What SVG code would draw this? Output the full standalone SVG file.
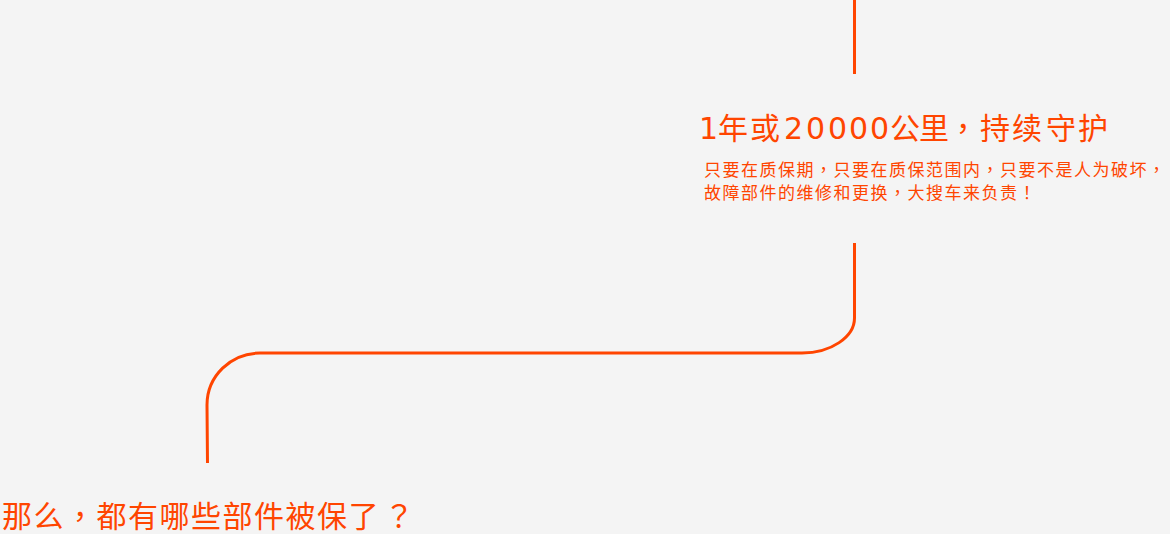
<svg xmlns="http://www.w3.org/2000/svg" width="1170" height="534" viewBox="0 0 1170 534">
  <style>
    .txt { font-family: "Noto Sans CJK SC", "Noto Sans", sans-serif; fill: #ff4500; }
    .p { font-family: "Noto Sans CJK TC", "Noto Sans CJK SC", sans-serif; }
    .d { font-family: "DejaVu Sans", "Noto Sans", sans-serif; }
    .title { font-size: 30px; }
    .sub { font-size: 17px; letter-spacing: 1.5px; }
    .q { font-size: 30px; letter-spacing: 1.5px; }
    .conn { fill: none; stroke: #ff4500; stroke-width: 3; }
  </style>
  <rect x="0" y="0" width="1170" height="534" fill="#f4f4f4"/>
  <g id="connectors">
    <line class="conn" x1="854.5" y1="0" x2="854.5" y2="74"/>
    <path class="conn" d="M854.5 243 V318 C854.5 337 831 353 802 353 H260 C231 353 207 376 207 405 L207.5 463"/>
  </g>
  <g id="node-title">
    <text class="txt title" y="139" x="699 718 750 784 806 828 849 870 890 919 948 980 1012 1046 1078"><tspan class="d">1</tspan>年或<tspan class="d">20000</tspan>公里<tspan class="p">，</tspan>持续守护</text>
  </g>
  <g id="node-desc">
    <text class="txt sub" x="704" y="176">只要在质保期<tspan class="p">，</tspan>只要在质保范围内<tspan class="p">，</tspan>只要不是人为破坏<tspan class="p">，</tspan></text>
    <text class="txt sub" x="704" y="199">故障部件的维修和更换<tspan class="p">，</tspan>大搜车来负责<tspan class="p">！</tspan></text>
  </g>
  <g id="node-question">
    <text class="txt q" x="2" y="527">那么<tspan class="p">，</tspan>都有哪些部件被保了<tspan class="p" dx="4">？</tspan></text>
  </g>
</svg>
